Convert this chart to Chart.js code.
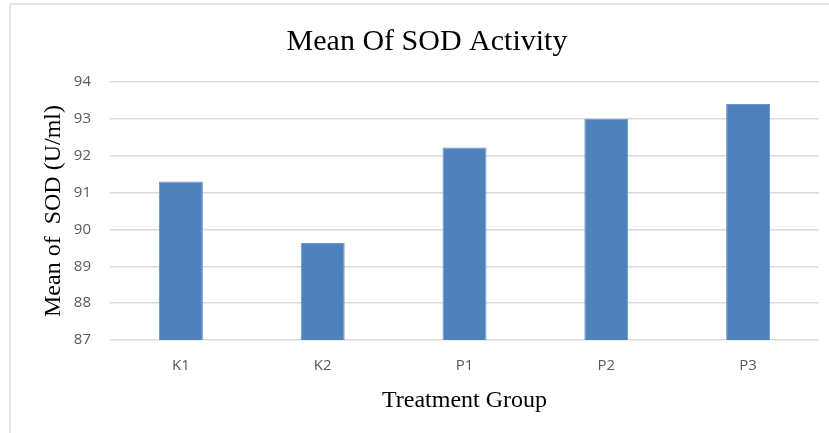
<!DOCTYPE html>
<html>
<head>
<meta charset="utf-8">
<script src="https://cdn.jsdelivr.net/npm/chart.js@4/dist/chart.umd.min.js"></script>
<style>
  html, body { margin: 0; padding: 0; background: #ffffff; }
  #wrap { position: relative; width: 829px; height: 433px; }
</style>
</head>
<body>
<div id="wrap"><canvas id="c" width="829" height="433"></canvas></div>
<script>
const categories = ['K1', 'K2', 'P1', 'P2', 'P3'];
const sodMeans = [91.30, 89.63, 92.22, 93.00, 93.40];
const yTicks = [87, 88, 89, 90, 91, 92, 93, 94];

const titleText = 'Mean Of SOD Activity';
const xTitle = 'Treatment Group';
const yTitle = 'Mean of  SOD (U/ml)';

const framePlugin = {
  id: 'frame',
  beforeDraw(chart) {
    const ctx = chart.ctx;
    ctx.save();
    ctx.fillStyle = '#ffffff';
    ctx.fillRect(0, 0, chart.width, chart.height);
    ctx.strokeStyle = '#e4e4e4';
    ctx.lineWidth = 2;
    ctx.beginPath();
    ctx.moveTo(10, chart.height);
    ctx.lineTo(10, 4);
    ctx.lineTo(chart.width, 4);
    ctx.stroke();
    ctx.restore();
  }
};

new Chart(document.getElementById('c'), {
  type: 'bar',
  data: {
    labels: categories,
    datasets: [{
      label: 'Mean of SOD',
      data: sodMeans,
      backgroundColor: '#4f81bd',
      borderColor: '#6a94c6',
      borderWidth: 1,
      categoryPercentage: 1.0,
      barPercentage: 0.31
    }]
  },
  options: {
    responsive: false,
    animation: false,
    devicePixelRatio: 1,
    layout: { padding: { left: 35, right: 10, top: 0, bottom: 0 } },
    plugins: {
      legend: { display: false },
      tooltip: { enabled: false },
      title: {
        display: true,
        text: titleText,
        color: '#000000',
        font: { family: '"Liberation Serif", "Times New Roman", serif', size: 30, weight: 'normal' },
        padding: { top: 24, bottom: 22 }
      }
    },
    scales: {
      x: {
        grid: { display: false, drawTicks: false },
        border: { display: false },
        ticks: {
          color: '#595959',
          font: { family: '"Open Sans", sans-serif', size: 15 },
          padding: 17
        },
        title: {
          display: true,
          text: xTitle,
          color: '#000000',
          font: { family: '"Liberation Serif", "Times New Roman", serif', size: 24, weight: 'normal' },
          padding: { top: 4, bottom: 18 }
        },
        afterFit(scale) { scale.height = 93; }
      },
      y: {
        min: 87,
        max: 94,
        afterBuildTicks(scale) { scale.ticks = yTicks.map(v => ({ value: v })); },
        grid: { color: '#d9d9d9', lineWidth: 1.5, drawTicks: false },
        border: { display: false },
        ticks: {
          color: '#595959',
          font: { family: '"Open Sans", sans-serif', size: 15 },
          padding: 19
        },
        title: {
          display: true,
          text: yTitle,
          color: '#000000',
          font: { family: '"Liberation Serif", "Times New Roman", serif', size: 24, weight: 'normal' },
          padding: { top: 4, bottom: 4 }
        },
        afterFit(scale) { scale.width = 75; }
      }
    }
  },
  plugins: [framePlugin]
});
</script>
</body>
</html>
